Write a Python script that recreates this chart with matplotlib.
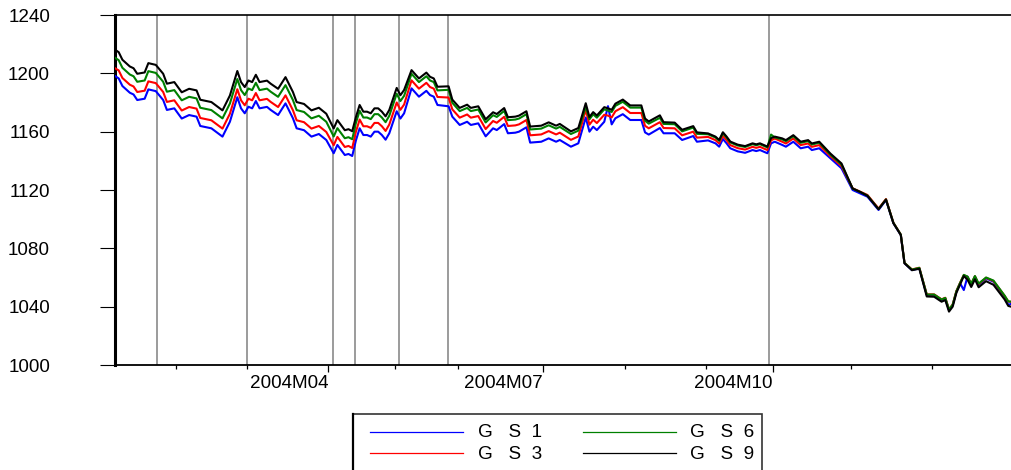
"""
GS1 / GS3 / GS6 / GS9 daily series, 2004 (EViews style line chart)
"""
import matplotlib
matplotlib.use("Agg")
import matplotlib.pyplot as plt
from matplotlib.lines import Line2D
from matplotlib.patches import Rectangle

plt.rcParams['font.family'] = ['Liberation Sans', 'DejaVu Sans']

# ============ data ============
# observation number (business days from start of sample)
obs = [0, 1, 2, 4, 5, 6, 8, 9, 11, 13,
       14, 16, 18, 20, 22, 23, 26, 29, 31, 33,
       34, 35, 36, 37, 38, 39, 41, 42, 44, 46,
       48, 49, 51, 53, 55, 57, 59, 60, 61, 62,
       63, 64, 65, 66, 67, 68, 69, 70, 71, 72,
       73, 74, 76, 77, 78, 80, 82, 84, 85, 86,
       87, 90, 91, 93, 95, 96, 98, 100, 102, 103,
       105, 106, 108, 109, 111, 112, 115, 117, 119, 120,
       123, 125, 127, 128, 129, 130, 132, 133, 134, 135,
       137, 139, 142, 143, 144, 147, 148, 151, 153, 156,
       157, 160, 162, 163, 164, 165, 166, 168, 170, 172,
       173, 174, 176, 177, 178, 180, 181, 183, 185, 187,
       188, 190, 193, 195, 196, 199, 201, 203, 206, 208,
       210, 212, 213, 215, 217, 219, 221, 223, 224, 225,
       226, 227, 228, 229, 230, 231, 232, 233, 235, 237,
       240, 241, 242]

gs1 = [1198.2, 1196.5, 1191.3, 1186.7, 1185.5, 1181.7, 1182.6, 1189.0, 1187.8, 1181.7,
       1174.9, 1176.0, 1169.0, 1171.4, 1170.3, 1163.9, 1162.3, 1156.6, 1166.8, 1183.6,
       1176.0, 1172.6, 1177.1, 1176.0, 1181.0, 1176.0, 1177.0, 1174.9, 1171.4, 1179.4,
       1169.2, 1162.3, 1161.0, 1156.6, 1158.4, 1154.3, 1145.2, 1150.9, 1147.4, 1144.0,
       1144.7, 1143.3, 1154.0, 1162.3, 1157.7, 1157.7, 1156.6, 1160.0, 1160.0, 1157.7,
       1154.5, 1158.9, 1174.0, 1169.0, 1172.6, 1189.7, 1184.0, 1188.0, 1185.1, 1184.0,
       1178.3, 1177.4, 1170.3, 1164.6, 1166.8, 1164.6, 1165.7, 1156.8, 1162.3, 1161.1,
       1165.2, 1158.9, 1159.3, 1160.0, 1163.0, 1152.5, 1153.1, 1155.4, 1153.1, 1154.3,
       1149.7, 1152.0, 1169.7, 1160.0, 1163.4, 1161.1, 1166.8, 1177.5, 1165.0, 1169.2,
       1172.0, 1168.0, 1168.0, 1159.5, 1158.0, 1162.5, 1158.9, 1158.9, 1154.3, 1157.0,
       1153.1, 1154.0, 1152.0, 1149.7, 1155.0, 1152.0, 1148.6, 1146.5, 1145.5, 1147.4,
       1146.7, 1147.4, 1145.2, 1152.0, 1153.1, 1150.9, 1149.7, 1153.1, 1148.6, 1149.7,
       1147.4, 1148.6, 1141.7, 1137.1, 1134.9, 1120.0, 1117.7, 1115.4, 1106.3, 1113.1,
       1097.2, 1089.1, 1069.7, 1065.1, 1066.3, 1048.0, 1048.0, 1044.6, 1045.7, 1037.7,
       1041.1, 1050.3, 1056.0, 1051.4, 1060.6, 1054.9, 1060.6, 1054.9, 1059.4, 1057.1,
       1046.9, 1041.1, 1042.3]

gs3 = [1203.5, 1202.0, 1196.8, 1192.2, 1191.0, 1187.2, 1188.1, 1194.5, 1193.3, 1187.2,
       1180.4, 1181.5, 1174.5, 1176.9, 1175.8, 1169.4, 1167.8, 1162.1, 1172.3, 1189.1,
       1181.5, 1178.1, 1182.6, 1181.5, 1186.5, 1181.5, 1182.5, 1180.4, 1176.9, 1184.9,
       1174.7, 1167.8, 1166.5, 1162.1, 1163.9, 1159.8, 1150.7, 1156.4, 1152.9, 1149.5,
       1150.2, 1148.8, 1160.0, 1168.3, 1163.7, 1163.7, 1162.6, 1166.0, 1166.0, 1163.7,
       1160.5, 1164.9, 1180.0, 1175.0, 1178.6, 1195.2, 1189.5, 1193.5, 1190.6, 1189.5,
       1183.8, 1183.4, 1175.3, 1169.6, 1171.8, 1169.6, 1170.7, 1161.8, 1167.3, 1166.1,
       1170.2, 1163.9, 1164.3, 1165.0, 1168.0, 1157.5, 1158.1, 1160.4, 1158.1, 1159.3,
       1154.4, 1156.7, 1174.9, 1164.8, 1168.2, 1165.9, 1171.6, 1171.0, 1169.8, 1174.0,
       1176.8, 1172.8, 1172.8, 1164.0, 1162.3, 1166.5, 1162.5, 1162.3, 1157.5, 1160.0,
       1155.9, 1156.4, 1154.2, 1151.9, 1157.2, 1154.2, 1150.8, 1148.7, 1147.7, 1149.6,
       1148.9, 1149.6, 1147.4, 1154.0, 1155.3, 1153.1, 1151.9, 1155.3, 1150.8, 1151.9,
       1149.6, 1150.8, 1143.2, 1138.6, 1136.4, 1121.2, 1118.9, 1116.6, 1107.3, 1113.8,
       1097.6, 1089.4, 1070.0, 1065.5, 1066.7, 1048.4, 1048.4, 1045.0, 1046.1, 1038.1,
       1041.5, 1050.7, 1056.4, 1061.6, 1060.4, 1055.6, 1060.8, 1055.5, 1059.8, 1057.6,
       1047.4, 1043.5, 1043.2]

gs6 = [1210.7, 1209.0, 1203.8, 1199.2, 1198.0, 1194.2, 1195.1, 1201.5, 1200.3, 1194.2,
       1187.4, 1188.5, 1181.5, 1183.9, 1182.8, 1176.4, 1174.8, 1169.1, 1179.3, 1196.1,
       1188.5, 1185.1, 1189.6, 1188.5, 1193.5, 1188.5, 1189.5, 1187.4, 1183.9, 1191.9,
       1181.7, 1174.8, 1173.5, 1169.1, 1170.9, 1166.8, 1156.7, 1162.4, 1158.9, 1155.5,
       1156.2, 1154.8, 1166.0, 1174.3, 1169.7, 1169.7, 1168.6, 1172.0, 1172.0, 1169.7,
       1166.5, 1170.9, 1186.0, 1181.0, 1184.6, 1199.7, 1194.0, 1198.0, 1195.1, 1194.0,
       1188.3, 1188.7, 1179.8, 1174.1, 1176.3, 1174.1, 1175.2, 1166.3, 1171.3, 1170.1,
       1174.2, 1167.9, 1168.3, 1169.0, 1172.0, 1161.5, 1162.1, 1164.4, 1162.1, 1163.3,
       1158.4, 1160.7, 1177.2, 1168.5, 1171.9, 1169.6, 1175.3, 1174.5, 1173.5, 1177.7,
       1180.5, 1176.5, 1176.5, 1167.5, 1165.5, 1169.5, 1165.3, 1165.1, 1160.2, 1162.8,
       1158.5, 1158.2, 1156.0, 1153.7, 1159.0, 1156.0, 1152.6, 1150.5, 1149.5, 1151.4,
       1150.7, 1151.4, 1149.2, 1158.0, 1156.0, 1154.7, 1153.5, 1156.9, 1152.4, 1153.5,
       1151.2, 1152.4, 1144.2, 1139.6, 1137.4, 1121.0, 1118.7, 1116.2, 1106.9, 1113.5,
       1097.5, 1089.4, 1070.0, 1065.4, 1066.6, 1048.3, 1048.3, 1044.9, 1046.0, 1038.0,
       1041.4, 1050.6, 1056.3, 1061.8, 1060.6, 1055.8, 1061.0, 1055.8, 1060.0, 1057.9,
       1047.6, 1043.6, 1043.4]

gs9 = [1216.2, 1214.5, 1209.3, 1204.7, 1203.5, 1199.7, 1200.6, 1207.0, 1205.8, 1199.7,
       1192.9, 1194.0, 1187.0, 1189.4, 1188.3, 1181.9, 1180.3, 1174.6, 1184.8, 1201.6,
       1194.0, 1190.6, 1195.1, 1194.0, 1199.0, 1194.0, 1195.0, 1192.9, 1189.4, 1197.4,
       1187.2, 1180.3, 1179.0, 1174.6, 1176.4, 1172.3, 1162.2, 1167.9, 1164.4, 1161.0,
       1161.7, 1160.3, 1170.0, 1178.3, 1173.7, 1173.7, 1172.6, 1176.0, 1176.0, 1173.7,
       1170.5, 1174.9, 1190.0, 1185.0, 1188.6, 1202.2, 1196.5, 1200.5, 1197.6, 1196.5,
       1190.8, 1191.1, 1182.0, 1176.3, 1178.5, 1176.3, 1177.4, 1168.5, 1173.3, 1172.1,
       1176.2, 1169.9, 1170.3, 1171.0, 1174.0, 1163.5, 1164.1, 1166.4, 1164.1, 1165.3,
       1160.2, 1162.5, 1179.5, 1170.0, 1173.4, 1171.1, 1176.8, 1176.0, 1175.0, 1179.2,
       1182.0, 1178.0, 1178.0, 1169.0, 1167.0, 1171.2, 1166.5, 1166.2, 1161.3, 1163.8,
       1159.5, 1158.8, 1156.6, 1154.3, 1159.6, 1156.6, 1153.2, 1151.1, 1150.1, 1152.0,
       1151.3, 1152.0, 1149.8, 1155.5, 1156.6, 1155.4, 1154.2, 1157.6, 1153.1, 1154.2,
       1151.9, 1153.1, 1145.0, 1140.4, 1138.2, 1121.0, 1118.7, 1116.0, 1106.8, 1113.4,
       1097.3, 1089.2, 1069.8, 1065.0, 1066.0, 1047.0, 1046.8, 1043.4, 1044.5, 1036.6,
       1040.0, 1049.5, 1055.2, 1061.0, 1058.5, 1053.5, 1058.8, 1053.3, 1057.5, 1055.0,
       1045.0, 1040.5, 1039.8]

series = [gs1, gs3, gs6, gs9]
series_names = ['G   S  1', 'G   S  3', 'G   S  6', 'G   S  9']
series_colors = ['#0000ff', '#ff0000', '#008000', '#000000']

# dates marked with vertical lines (in observation units)
event_obs = [11.3, 35.6, 58.8, 64.7, 76.6, 89.8, 176.4]

# month boundaries on the observation axis
month_ticks = [16.5, 35.5, 57.5, 75.5, 92.5, 115.5, 137.5, 159.5, 177.5, 198.5, 220.5]
major_ticks = [57.5, 115.5, 177.5]
major_labels = ['2004M04', '2004M07', '2004M10']
y_ticks = [1000, 1040, 1080, 1120, 1160, 1200, 1240]

assert all(len(s) == len(obs) for s in series)

# ============ layout ============
W, H = 1012, 470
FS = 13.6


def fx(x):
    return x / W


def fy(y):
    return 1 - y / H


fig = plt.figure(figsize=(W / 100, H / 100), dpi=100)
ax = fig.add_axes([fx(115), fy(365), fx(1012 - 115), 350 / H])

for e in event_obs:
    ax.axvline(e, color='#808080', lw=1.1, zorder=1)

for vals, name, col in zip(series, series_names, series_colors):
    ax.plot(obs, vals, color=col, lw=1.5, label=name, zorder=3)

ax.set_xlim(0, 242)
ax.set_ylim(1000, 1240)
ax.set_yticks(y_ticks)

ax.set_xticks(major_ticks)
ax.set_xticklabels(major_labels)
ax.set_xticks([m for m in month_ticks if m not in major_ticks], minor=True)
for lbl in ax.get_xticklabels():
    lbl.set_horizontalalignment('right')

ax.tick_params(axis='y', direction='out', length=10.8, width=0.8,
               pad=36, labelsize=FS)
ax.tick_params(axis='x', which='major', direction='out', length=5,
               width=0.9, pad=2, labelsize=FS)
ax.tick_params(axis='x', which='minor', direction='out', length=2.9, width=0.9)

ax.spines['right'].set_visible(False)
ax.spines['left'].set_linewidth(2.2)
ax.spines['bottom'].set_linewidth(1.3)
ax.spines['top'].set_linewidth(1.2)

# ============ legend box ============
fig.patches.append(Rectangle((fx(353), fy(472)), fx(762 - 353), (472 - 414) / H,
                             transform=fig.transFigure, fill=False,
                             edgecolor='#333333', lw=1.2))
fig.lines.append(Line2D([fx(353), fx(353)], [fy(414), fy(470)],
                        transform=fig.transFigure, color='black', lw=1.6))

rows = [431.7, 453.3]
cols = [(370, 463, 478), (583, 676, 690)]
for k, (name, col) in enumerate(zip(series_names, series_colors)):
    x0, x1, xt = cols[k // 2]
    yr = rows[k % 2]
    fig.lines.append(Line2D([fx(x0), fx(x1)], [fy(yr), fy(yr)],
                            transform=fig.transFigure, color=col, lw=0.9))
    fig.text(fx(xt), fy(yr + 5.5), name, fontsize=FS, va='baseline', ha='left')

fig.savefig('out.png', dpi=100)
